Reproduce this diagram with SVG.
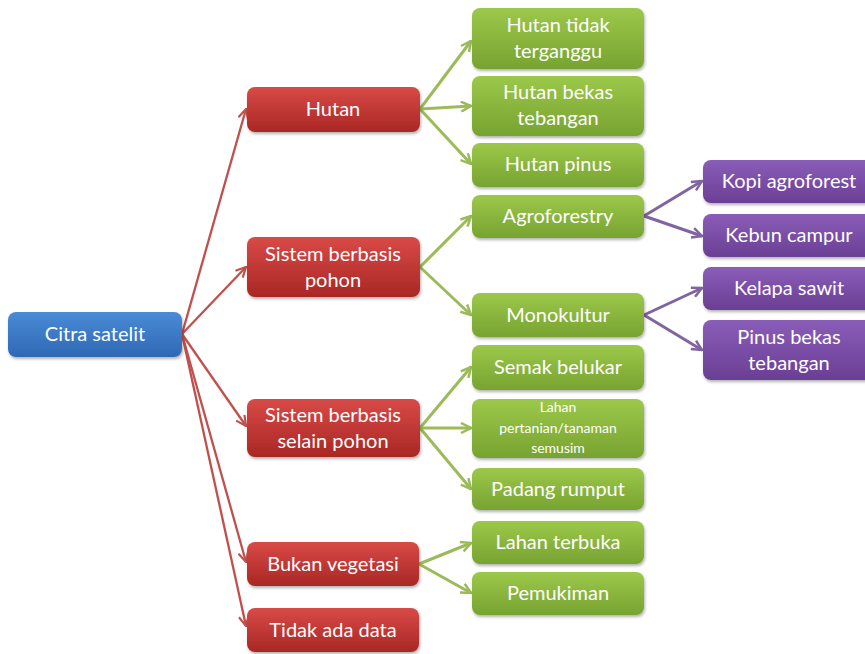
<svg xmlns="http://www.w3.org/2000/svg" width="865" height="654" viewBox="0 0 865 654">
<defs>
<linearGradient id="gBlue" x1="0" y1="0" x2="0" y2="1"><stop offset="0" stop-color="#4a8bd6"/><stop offset="1" stop-color="#2f68b4"/></linearGradient>
<linearGradient id="gRed" x1="0" y1="0" x2="0" y2="1"><stop offset="0" stop-color="#d84a47"/><stop offset="1" stop-color="#a92724"/></linearGradient>
<linearGradient id="gGreen" x1="0" y1="0" x2="0" y2="1"><stop offset="0" stop-color="#9cc84a"/><stop offset="1" stop-color="#77a331"/></linearGradient>
<linearGradient id="gPurple" x1="0" y1="0" x2="0" y2="1"><stop offset="0" stop-color="#8a5db8"/><stop offset="1" stop-color="#6a3f94"/></linearGradient>
<filter id="sh" x="-10%" y="-10%" width="120%" height="130%"><feDropShadow dx="1" dy="2" stdDeviation="1.5" flood-color="#000" flood-opacity="0.3"/></filter>
<marker id="aR" viewBox="0 0 12 12" refX="11" refY="6" markerWidth="12" markerHeight="12" markerUnits="userSpaceOnUse" orient="auto"><path d="M1,1 L11,6 L1,11" fill="none" stroke="#c0504d" stroke-width="2.2"/></marker>
<marker id="aG" viewBox="0 0 12 12" refX="11" refY="6" markerWidth="12" markerHeight="12" markerUnits="userSpaceOnUse" orient="auto"><path d="M1,1 L11,6 L1,11" fill="none" stroke="#9bbb59" stroke-width="2.5"/></marker>
<marker id="aP" viewBox="0 0 12 12" refX="11" refY="6" markerWidth="12" markerHeight="12" markerUnits="userSpaceOnUse" orient="auto"><path d="M1,1 L11,6 L1,11" fill="none" stroke="#8064a2" stroke-width="2.5"/></marker>
</defs>
<style>
.t{font-family:Lato,"Liberation Sans",sans-serif;font-size:20px;fill:#fff;text-anchor:middle}
.s{font-size:14px}
.bx{filter:url(#sh)}
.cr{stroke:#c0504d;stroke-width:2.3;fill:none;marker-end:url(#aR)}
.cg{stroke:#9bbb59;stroke-width:3;fill:none;marker-end:url(#aG)}
.cp{stroke:#8064a2;stroke-width:3;fill:none;marker-end:url(#aP)}
</style>
<rect width="865" height="654" fill="#fff"/>
<g id="connectors">
<line class="cr" x1="182" y1="334" x2="246" y2="109"/>
<line class="cr" x1="182" y1="334" x2="246" y2="267"/>
<line class="cr" x1="182" y1="334" x2="246" y2="426"/>
<line class="cr" x1="182" y1="334" x2="246" y2="562"/>
<line class="cr" x1="182" y1="334" x2="246" y2="626"/>
<line class="cg" x1="420" y1="109" x2="471" y2="41"/>
<line class="cg" x1="420" y1="109" x2="471" y2="106"/>
<line class="cg" x1="420" y1="109" x2="471" y2="164"/>
<line class="cg" x1="420" y1="267" x2="471" y2="216"/>
<line class="cg" x1="420" y1="267" x2="471" y2="315"/>
<line class="cg" x1="420" y1="428" x2="471" y2="367"/>
<line class="cg" x1="420" y1="428" x2="471" y2="428"/>
<line class="cg" x1="420" y1="428" x2="471" y2="489"/>
<line class="cg" x1="419" y1="564" x2="471" y2="543"/>
<line class="cg" x1="419" y1="564" x2="471" y2="593"/>
<line class="cp" x1="644" y1="216" x2="702" y2="181"/>
<line class="cp" x1="644" y1="216" x2="702" y2="236"/>
<line class="cp" x1="644" y1="315" x2="702" y2="288"/>
<line class="cp" x1="644" y1="315" x2="702" y2="350"/>
</g>
<g id="citra"><rect class="bx" x="8" y="312" width="174" height="45" rx="8" fill="url(#gBlue)"/><text class="t" x="95" y="341">Citra satelit</text></g>
<g id="hutan"><rect class="bx" x="247" y="87" width="173" height="45" rx="8" fill="url(#gRed)"/><text class="t" x="333" y="116">Hutan</text></g>
<g id="pohon"><rect class="bx" x="247" y="237" width="173" height="60" rx="8" fill="url(#gRed)"/><text class="t" x="333" y="261">Sistem berbasis</text><text class="t" x="333" y="287">pohon</text></g>
<g id="selain"><rect class="bx" x="247" y="399" width="173" height="58" rx="8" fill="url(#gRed)"/><text class="t" x="333" y="422">Sistem berbasis</text><text class="t" x="333" y="448">selain pohon</text></g>
<g id="bukan"><rect class="bx" x="247" y="542" width="172" height="44" rx="8" fill="url(#gRed)"/><text class="t" x="333" y="571">Bukan vegetasi</text></g>
<g id="tidak"><rect class="bx" x="247" y="608" width="172" height="44" rx="8" fill="url(#gRed)"/><text class="t" x="333" y="637">Tidak ada data</text></g>
<g id="h1"><rect class="bx" x="472" y="8" width="172" height="61" rx="8" fill="url(#gGreen)"/><text class="t" x="558" y="32">Hutan tidak</text><text class="t" x="558" y="58">terganggu</text></g>
<g id="h2"><rect class="bx" x="472" y="76" width="172" height="60" rx="8" fill="url(#gGreen)"/><text class="t" x="558" y="99">Hutan bekas</text><text class="t" x="558" y="125">tebangan</text></g>
<g id="h3"><rect class="bx" x="472" y="143" width="172" height="44" rx="8" fill="url(#gGreen)"/><text class="t" x="558" y="171">Hutan pinus</text></g>
<g id="agro"><rect class="bx" x="472" y="195" width="172" height="43" rx="8" fill="url(#gGreen)"/><text class="t" x="558" y="223">Agroforestry</text></g>
<g id="mono"><rect class="bx" x="472" y="293" width="172" height="44" rx="8" fill="url(#gGreen)"/><text class="t" x="558" y="322">Monokultur</text></g>
<g id="semak"><rect class="bx" x="472" y="345" width="172" height="45" rx="8" fill="url(#gGreen)"/><text class="t" x="558" y="374">Semak belukar</text></g>
<g id="lahan"><rect class="bx" x="472" y="399" width="172" height="59" rx="8" fill="url(#gGreen)"/><text class="t s" x="558" y="412">Lahan</text><text class="t s" x="558" y="433">pertanian/tanaman</text><text class="t s" x="558" y="453">semusim</text></g>
<g id="padang"><rect class="bx" x="472" y="468" width="172" height="42" rx="8" fill="url(#gGreen)"/><text class="t" x="558" y="496">Padang rumput</text></g>
<g id="terbuka"><rect class="bx" x="472" y="521" width="172" height="43" rx="8" fill="url(#gGreen)"/><text class="t" x="558" y="549">Lahan terbuka</text></g>
<g id="pemukiman"><rect class="bx" x="472" y="572" width="172" height="43" rx="8" fill="url(#gGreen)"/><text class="t" x="558" y="600">Pemukiman</text></g>
<g id="kopi"><rect class="bx" x="703" y="160" width="172" height="43" rx="8" fill="url(#gPurple)"/><text class="t" x="789" y="188">Kopi agroforest</text></g>
<g id="kebun"><rect class="bx" x="703" y="214" width="172" height="43" rx="8" fill="url(#gPurple)"/><text class="t" x="789" y="242">Kebun campur</text></g>
<g id="kelapa"><rect class="bx" x="703" y="267" width="172" height="43" rx="8" fill="url(#gPurple)"/><text class="t" x="789" y="295">Kelapa sawit</text></g>
<g id="pinus"><rect class="bx" x="703" y="320" width="172" height="60" rx="8" fill="url(#gPurple)"/><text class="t" x="789" y="344">Pinus bekas</text><text class="t" x="789" y="370">tebangan</text></g>
</svg>
